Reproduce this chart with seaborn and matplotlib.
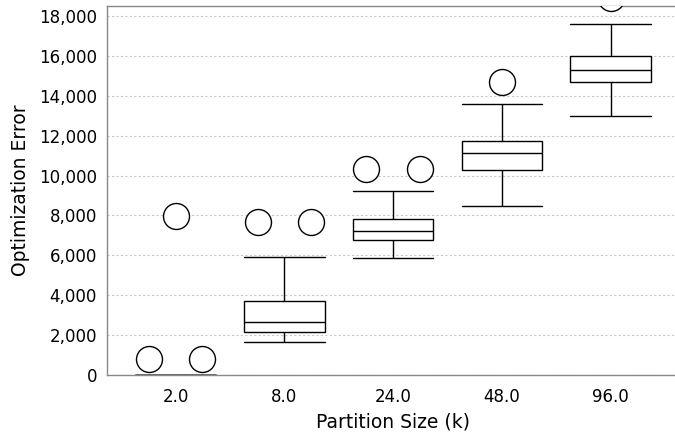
import numpy as np
import pandas as pd
import matplotlib
matplotlib.use("Agg")
import matplotlib.pyplot as plt
import matplotlib.ticker as mticker
import seaborn as sns

# five-number summaries, one entry per partition size
partitions = ['2.0', '8.0', '24.0', '48.0', '96.0']
whisker_low = [0, 1650, 5870, 8490, 12990]
q1 = [0, 2160, 6770, 10280, 14710]
median = [0, 2640, 7220, 11150, 15310]
q3 = [0, 3730, 7820, 11720, 16010]
whisker_high = [0, 5930, 9230, 13610, 17620]

# outliers (drawn side by side when they share a value)
outlier_partition = ['2.0', '2.0', '2.0', '8.0', '8.0', '24.0', '24.0', '48.0', '96.0']
outlier_value = [800, 800, 7990, 7690, 7690, 10330, 10330, 14690, 18890]

sns.set_theme(style="white")
plt.rcParams['font.family'] = ['DejaVu Sans']

rows = []
for i, p in enumerate(partitions):
    for v in (whisker_low[i], q1[i], median[i], q3[i], whisker_high[i]):
        rows.append({'partition': p, 'error': v})
df = pd.DataFrame(rows)

fig, ax = plt.subplots(figsize=(6.75, 4.41), dpi=100)
ax.set_position([106.6 / 675, 1 - 375 / 441, 573 / 675, 369 / 441])

sns.boxplot(data=df, x='partition', y='error', order=partitions, ax=ax,
            width=0.74, capwidths=0.74, color='white', linecolor='black',
            linewidth=1.0, saturation=1, showfliers=False)

# spread outliers with the same value next to each other
out = pd.DataFrame({'partition': outlier_partition, 'value': outlier_value})
xs = []
for (p, v), grp in out.groupby(['partition', 'value'], sort=False):
    n = len(grp)
    base = partitions.index(p)
    for k in range(n):
        xs.append((base + (k - (n - 1) / 2) * 0.49, v))
ox = [x for x, _ in xs]
oy = [y for _, y in xs]
sns.scatterplot(x=ox, y=oy, ax=ax, s=350, facecolor='white',
                edgecolor='black', linewidth=1.0, zorder=5, clip_on=True)

ax.set_xlim(-0.635, 4.635)
ax.set_ylim(0, 18500)
ax.set_yticks(range(0, 18001, 2000))
ax.yaxis.set_major_formatter(mticker.StrMethodFormatter('{x:,.0f}'))

ax.yaxis.grid(True, linestyle=(0, (2, 2)), color='#c8c8c8', linewidth=0.8)
ax.set_axisbelow(True)

for side in ['top', 'left', 'bottom']:
    ax.spines[side].set_color('#888888')
    ax.spines[side].set_linewidth(1.0)
ax.spines['right'].set_visible(False)

ax.tick_params(axis='both', direction='out', length=4, width=1,
               color='#888888', labelsize=12, labelcolor='black', pad=3)
ax.tick_params(axis='x', pad=5)

ax.set_xlabel('Partition Size (k)', fontsize=13.5, color='black', labelpad=5)
ax.set_ylabel('Optimization Error', fontsize=13.5, color='black', labelpad=6)

fig.savefig('out.png', dpi=100)
